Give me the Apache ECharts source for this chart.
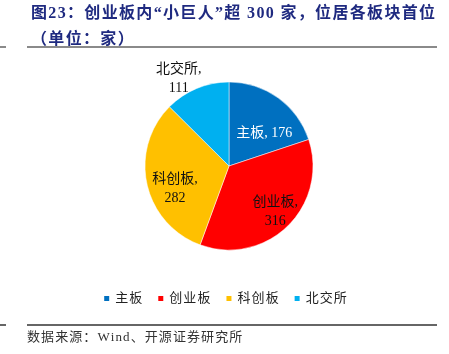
<!DOCTYPE html>
<html>
<head>
<meta charset="utf-8">
<script src="https://cdn.jsdelivr.net/npm/echarts@6/dist/echarts.min.js"></script>
<style>
  html, body { margin: 0; padding: 0; background: #fff; }
  #main { width: 449px; height: 354px; }
</style>
</head>
<body>
<div id="main"></div>
<script>
    var boards = ['主板', '创业板', '科创板', '北交所'];
    var counts = [176, 316, 282, 111];
    var colors = ['#0070C0', '#FF0000', '#FFC000', '#00B0F0'];
    var labelColors = ['#ffffff', '#111111', '#111111', '#111111'];
    // nudge of each label from the default inside spot
    var labelShift = [[9, 4], [15, 14], [-10, 13], [-33, -46]];

    var serif = '"Liberation Serif", "Times New Roman", "Noto Sans CJK SC", serif';

    // the original typesetting spreads the glyphs a little
    function spaced(s) {
        return s.split('').join('\u200A');
    }

    var myChart = echarts.init(document.getElementById('main'));
    option = {
        animation: false,
        title: {
            text: spaced('图23：创业板内“小巨人”超 300 家，位居各板块首位') + '\n' + spaced('（单位：家）'),
            left: 26,
            top: -4,
            textStyle: {
                fontFamily: serif,
                fontSize: 16,
                fontWeight: 'bold',
                color: '#1F2A80',
                lineHeight: 26
            }
        },
        legend: {
            bottom: 44,
            left: 'center',
            icon: 'rect',
            itemWidth: 7,
            itemHeight: 7,
            itemGap: 14,
            textStyle: { fontFamily: serif, fontSize: 13, color: '#222' },
            formatter: function (n) { return spaced(n); },
            data: boards
        },
        graphic: [
            { type: 'line', shape: { x1: 27, y1: 47, x2: 437, y2: 47 }, style: { stroke: '#8a8a8a', lineWidth: 2 } },
            { type: 'line', shape: { x1: 0, y1: 47, x2: 6, y2: 47 }, style: { stroke: '#8a8a8a', lineWidth: 2 } },
            { type: 'line', shape: { x1: 27, y1: 325, x2: 437, y2: 325 }, style: { stroke: '#333', lineWidth: 1.5 } },
            { type: 'line', shape: { x1: 0, y1: 325, x2: 6, y2: 325 }, style: { stroke: '#333', lineWidth: 1.5 } },
            { type: 'text', left: -9, top: 0, style: { text: '）', fontFamily: serif, fontSize: 16, fontWeight: 'bold', fill: '#1F2A80' } },
            { type: 'text', left: 27, top: 331, style: { text: spaced('数据来源：Wind、开源证券研究所'), fontFamily: serif, fontSize: 13, fill: '#333' } }
        ],
        series: [
          {
            name: '小巨人',
            type: 'pie',
            radius: [0, 84],
            center: [229, 166],
            startAngle: 90,
            clockwise: true,
            itemStyle: { borderColor: '#fff', borderWidth: 0.5 },
            label: {
                position: 'inside',
                fontFamily: serif,
                fontSize: 14,
                lineHeight: 19,
                textBorderWidth: 0
            },
            labelLine: { show: false },
            labelLayout: function (p) {
                return { dx: labelShift[p.dataIndex][0], dy: labelShift[p.dataIndex][1] };
            },
            data: boards.map(function (b, i) {
                var txt = { color: labelColors[i], fontFamily: serif, fontSize: 14, lineHeight: 19 };
                return {
                    name: b,
                    value: counts[i],
                    itemStyle: { color: colors[i] },
                    label: {
                        color: labelColors[i],
                        formatter: i === 0 ? '{t|{b}, {c}}' : '{t|{b},}\n{t|{c}}',
                        rich: { t: txt }
                    }
                };
            })
        }]
    }
    myChart.setOption(option);
</script>
</body>
</html>
